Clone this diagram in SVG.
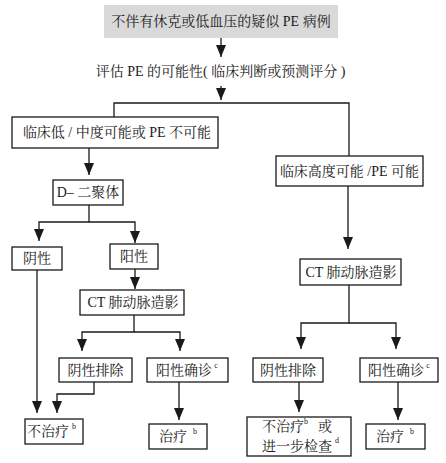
<svg xmlns="http://www.w3.org/2000/svg" width="446" height="463" viewBox="0 0 446 463">
<style>
text{font-family:"Liberation Serif","Noto Serif CJK SC","Noto Sans CJK SC",serif;font-size:14px;fill:#1a1a1a;text-anchor:middle;dominant-baseline:central}
.box{fill:#fff;stroke:#1a1a1a;stroke-width:1.3}
.gray{fill:#d9d9d9;stroke:none}
.sup{font-size:8px;dominant-baseline:auto}
#connectors path{fill:none;stroke:#1a1a1a;stroke-width:1.3}
</style>
<defs>
<marker id="ah" viewBox="0 0 12 10" refX="12" refY="5" markerWidth="12" markerHeight="10" markerUnits="userSpaceOnUse" orient="auto">
<path d="M0,0 L12,5 L0,10 z" fill="#1a1a1a"/>
</marker>
</defs>
<rect width="446" height="463" fill="#fff"/>
<g id="connectors">
<path d="M221,38 V57" marker-end="url(#ah)"/>
<path d="M221,86 V100" marker-end="url(#ah)"/>
<path d="M114,117 V103 H349 V156"/>
<path d="M89,148 V175" marker-end="url(#ah)"/>
<path d="M89,205 V222 H39 V241" marker-end="url(#ah)"/>
<path d="M89,222 H135 V243" marker-end="url(#ah)"/>
<path d="M135,269 V289" marker-end="url(#ah)"/>
<path d="M37,270 V413" marker-end="url(#ah)"/>
<path d="M134,315 V332 H82 V351" marker-end="url(#ah)"/>
<path d="M134,332 H180 V351" marker-end="url(#ah)"/>
<path d="M94,382 V394 H57 V413" marker-end="url(#ah)"/>
<path d="M179,382 V420" marker-end="url(#ah)"/>
<path d="M348,186 V249" marker-end="url(#ah)"/>
<path d="M349,285 V323 H301 V349" marker-end="url(#ah)"/>
<path d="M349,323 H396 V349" marker-end="url(#ah)"/>
<path d="M299,382 V412" marker-end="url(#ah)"/>
<path d="M398,382 V420" marker-end="url(#ah)"/>
</g>
<g id="n-start"><rect class="gray" x="104" y="5" width="234" height="33"/><text x="221" y="21.5">不伴有休克或低血压的疑似 PE 病例</text></g>
<g id="n-assess"><text x="220.5" y="71.5">评估 PE 的可能性( 临床判断或预测评分 )</text></g>
<g id="n-low"><rect class="box" x="12" y="117" width="206" height="31"/><text x="117" y="132.5">临床低 / 中度可能或 PE 不可能</text></g>
<g id="n-high"><rect class="box" x="276" y="156" width="147" height="30"/><text x="349.5" y="171">临床高度可能 /PE 可能</text></g>
<g id="n-dimer"><rect class="box" x="53" y="180" width="70" height="25"/><text x="88" y="192.5">D– 二聚体</text></g>
<g id="n-neg"><rect class="box" x="12" y="247" width="50" height="23"/><text x="37" y="258.5">阴性</text></g>
<g id="n-pos"><rect class="box" x="110" y="244" width="48" height="25"/><text x="134" y="256.5">阳性</text></g>
<g id="n-ct1"><rect class="box" x="80" y="290" width="104" height="25"/><text x="133" y="302.5">CT 肺动脉造影</text></g>
<g id="n-ct2"><rect class="box" x="300" y="259" width="101" height="26"/><text x="351" y="272">CT 肺动脉造影</text></g>
<g id="n-ex1"><rect class="box" x="59" y="358" width="73" height="24"/><text x="95.5" y="370">阴性排除</text></g>
<g id="n-conf1"><rect class="box" x="147" y="358" width="81" height="24"/><text x="184" y="370">阳性确诊</text><text class="sup" x="216" y="368">c</text></g>
<g id="n-ex2"><rect class="box" x="253" y="358" width="70" height="24"/><text x="288" y="370">阴性排除</text></g>
<g id="n-conf2"><rect class="box" x="360" y="358" width="78" height="24"/><text x="396" y="370">阳性确诊</text><text class="sup" x="428" y="368">c</text></g>
<g id="n-notreat1"><rect class="box" x="25" y="419" width="58" height="25"/><text x="48" y="431.5">不治疗</text><text class="sup" x="74" y="429">b</text></g>
<g id="n-treat1"><rect class="box" x="149" y="424" width="58" height="25"/><text x="173" y="436.5">治疗</text><text class="sup" x="195" y="434">b</text></g>
<g id="n-notreat2"><rect class="box" x="247" y="417" width="104" height="39"/><text x="282" y="426.5" style="text-anchor:start" dx="-20">不治疗</text><text class="sup" x="306" y="424">b</text><text x="318" y="426.5" style="text-anchor:start">或</text><text x="262" y="446" style="text-anchor:start">进一步检查</text><text class="sup" x="337" y="443">d</text></g>
<g id="n-treat2"><rect class="box" x="366" y="424" width="59" height="25"/><text x="390" y="436.5">治疗</text><text class="sup" x="412" y="434">b</text></g>
</svg>
